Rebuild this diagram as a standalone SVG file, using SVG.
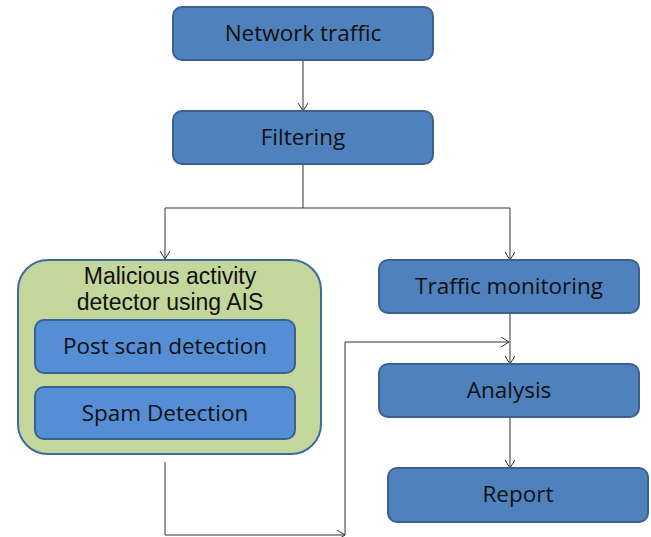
<svg xmlns="http://www.w3.org/2000/svg" width="651" height="537" viewBox="0 0 651 537">
<style>
.box{fill:#4F81BD;stroke:#3A6190;stroke-width:2}
.inner{fill:#558ED5;stroke:#3A6190;stroke-width:2}
.grp{fill:#C3D69B;stroke:#3E6AA0;stroke-width:2}
.t{font-family:"Open Sans",sans-serif;font-size:22.5px;fill:#111;text-anchor:middle}
.tt{font-family:"Liberation Sans",Arial,sans-serif;font-size:23px;fill:#111;text-anchor:middle}
.c{fill:none;stroke:#333;stroke-width:1}
</style>
<defs>
<marker id="a" markerWidth="12" markerHeight="12" refX="10" refY="5" orient="auto" markerUnits="userSpaceOnUse">
<polyline points="2,0 10,5 2,10" fill="none" stroke="#333" stroke-width="1"/>
</marker>
</defs>
<rect width="651" height="537" fill="#fff"/>
<g id="connectors">
<line class="c" x1="303" y1="60" x2="303" y2="111" marker-end="url(#a)"/>
<polyline class="c" points="303,164 303,208 165,208 165,259" marker-end="url(#a)"/>
<polyline class="c" points="303,208 510,208 510,260" marker-end="url(#a)"/>
<line class="c" x1="510" y1="313" x2="510" y2="364" marker-end="url(#a)"/>
<line class="c" x1="510" y1="417" x2="510" y2="468" marker-end="url(#a)"/>
<polyline class="c" points="165,462 165,535 345,535" marker-end="url(#a)"/>
<polyline class="c" points="345,535 345,342 509,342" marker-end="url(#a)"/>
</g>
<g id="network-traffic">
<rect class="box" x="173" y="7" width="260" height="53" rx="9"/>
<text class="t" x="303" y="41">Network traffic</text>
</g>
<g id="filtering">
<rect class="box" x="173" y="111" width="260" height="53" rx="9"/>
<text class="t" x="303" y="145">Filtering</text>
</g>
<g id="detector">
<rect class="grp" x="18" y="260" width="303" height="194" rx="30"/>
<text class="tt" x="170" y="284">Malicious activity</text>
<text class="tt" x="170" y="310">detector using AIS</text>
</g>
<g id="post-scan">
<rect class="inner" x="35" y="320" width="260" height="53" rx="9"/>
<text class="t" x="165" y="354">Post scan detection</text>
</g>
<g id="spam">
<rect class="inner" x="35" y="387" width="260" height="52" rx="9"/>
<text class="t" x="165" y="421">Spam Detection</text>
</g>
<g id="traffic-monitoring">
<rect class="box" x="379" y="260" width="260" height="53" rx="9"/>
<text class="t" x="509" y="294">Traffic monitoring</text>
</g>
<g id="analysis">
<rect class="box" x="379" y="364" width="260" height="53" rx="9"/>
<text class="t" x="509" y="398">Analysis</text>
</g>
<g id="report">
<rect class="box" x="388" y="468" width="260" height="54" rx="9"/>
<text class="t" x="518" y="502">Report</text>
</g>
</svg>
